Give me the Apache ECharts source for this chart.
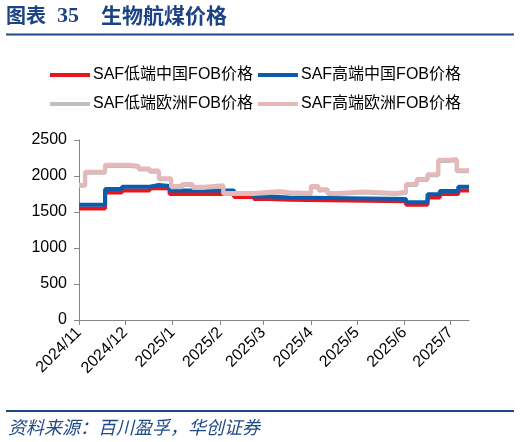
<!DOCTYPE html>
<html>
<head>
<meta charset="utf-8">
<script src="https://cdn.jsdelivr.net/npm/echarts@6/dist/echarts.min.js"></script>
<style>
  html, body { margin: 0; padding: 0; background: #fff; }
  #chart { width: 520px; height: 442px; }
</style>
</head>
<body>
<div id="chart"></div>
<script>
// 系列名称
var seriesNames = ["SAF低端中国FOB价格", "SAF高端中国FOB价格", "SAF低端欧洲FOB价格", "SAF高端欧洲FOB价格"];

// 价格变动点 [日期, 价格]，阶梯线保持到下一个点
var lowChina = [
  ["2024-11-01", 1550], ["2024-11-18", 1770], ["2024-11-29", 1800], ["2024-12-17", 1830],
  ["2024-12-30", 1750], ["2025-02-10", 1710], ["2025-02-23", 1680], ["2025-03-05", 1670],
  ["2025-03-18", 1650], ["2025-06-02", 1600], ["2025-06-16", 1700], ["2025-06-24", 1750],
  ["2025-07-06", 1800], ["2025-07-13", 1800]
];
var highChina = [
  ["2024-11-01", 1600], ["2024-11-18", 1820], ["2024-11-29", 1850], ["2024-12-17", 1875],
  ["2024-12-23", 1860], ["2024-12-30", 1800], ["2025-02-10", 1750], ["2025-02-23", 1715],
  ["2025-03-05", 1700], ["2025-03-18", 1680], ["2025-06-02", 1635], ["2025-06-16", 1745],
  ["2025-06-24", 1790], ["2025-07-06", 1850], ["2025-07-13", 1850]
];
var lowEurope = [
  ["2024-11-01", 1865], ["2024-11-05", 2045], ["2024-11-18", 2140], ["2024-12-04", 2125],
  ["2024-12-10", 2090], ["2024-12-17", 2060], ["2024-12-23", 1955], ["2024-12-31", 1845],
  ["2025-01-07", 1875], ["2025-01-14", 1835], ["2025-01-22", 1855], ["2025-02-03", 1750],
  ["2025-02-23", 1775], ["2025-03-12", 1760], ["2025-03-18", 1750], ["2025-04-01", 1845],
  ["2025-04-06", 1800], ["2025-04-12", 1750], ["2025-04-19", 1770], ["2025-05-05", 1750],
  ["2025-05-26", 1765], ["2025-06-02", 1875], ["2025-06-09", 1945], ["2025-06-16", 2010],
  ["2025-06-23", 2210], ["2025-07-01", 2220], ["2025-07-05", 2065], ["2025-07-13", 2065]
];
var highEurope = [
  ["2024-11-01", 1880], ["2024-11-05", 2060], ["2024-11-18", 2155], ["2024-12-04", 2140],
  ["2024-12-10", 2105], ["2024-12-17", 2075], ["2024-12-23", 1970], ["2024-12-31", 1860],
  ["2025-01-07", 1890], ["2025-01-14", 1850], ["2025-01-22", 1870], ["2025-02-03", 1765],
  ["2025-02-23", 1790], ["2025-03-12", 1775], ["2025-03-18", 1765], ["2025-04-01", 1860],
  ["2025-04-06", 1815], ["2025-04-12", 1765], ["2025-04-19", 1785], ["2025-05-05", 1765],
  ["2025-05-26", 1780], ["2025-06-02", 1890], ["2025-06-09", 1960], ["2025-06-16", 2025],
  ["2025-06-23", 2225], ["2025-07-01", 2235], ["2025-07-05", 2080], ["2025-07-13", 2080]
];

var seriesColors = ["#e8161c", "#0b5cad", "#bfbfbf", "#e6b8b7"];
var seriesData = [lowChina, highChina, lowEurope, highEurope];

var FONT = "'Liberation Sans', 'Noto Sans CJK SC', sans-serif";
var BLUE_DARK = "#1c4383";

var chart = echarts.init(document.getElementById("chart"), null, { renderer: "canvas" });

// 图例：每个单独定位，两行两列
var legendPos = [[50, 67], [258, 67], [50, 96], [258, 96]];
var legends = seriesNames.map(function (name, i) {
  return {
    data: [name],
    left: legendPos[i][0],
    top: legendPos[i][1],
    padding: 0,
    icon: "rect",
    itemWidth: 40,
    itemHeight: 4,
    itemGap: 0,
    selectedMode: false,
    textStyle: { fontSize: 16, color: "#000", fontFamily: FONT, padding: [0, 0, 0, -2] }
  };
});

var option = {
  animation: false,
  legend: legends,
  grid: { left: 79, right: 51, top: 140, bottom: 122, containLabel: false },
  xAxis: {
    type: "time",
    min: new Date(2024, 10, 1).getTime(),
    max: new Date(2025, 6, 13).getTime(),
    splitNumber: 8,
    axisLine: { lineStyle: { color: "#868686", width: 1 } },
    axisTick: { show: true, length: 5, lineStyle: { color: "#868686" } },
    minorTick: { show: false },
    splitLine: { show: false },
    axisLabel: {
      rotate: 45,
      margin: 10,
      fontSize: 16,
      color: "#000",
      fontFamily: FONT,
      showMaxLabel: false,
      formatter: function (val) {
        var d = new Date(val);
        return d.getFullYear() + "/" + (d.getMonth() + 1);
      }
    }
  },
  yAxis: {
    type: "value",
    min: 0,
    max: 2500,
    interval: 500,
    axisLine: { show: true, lineStyle: { color: "#868686", width: 1 } },
    axisTick: { show: true, length: 5, lineStyle: { color: "#868686" } },
    splitLine: { show: false },
    axisLabel: {
      fontSize: 16, color: "#000", fontFamily: FONT, margin: 12,
      formatter: function (v) { return String(v); }
    }
  },
  series: seriesNames.map(function (name, i) {
    return {
      name: name,
      type: "line",
      step: "end",
      showSymbol: false,
      symbol: "none",
      data: seriesData[i],
      lineStyle: { width: 4, color: seriesColors[i] },
      itemStyle: { color: seriesColors[i] }
    };
  }),
  graphic: [
    // 标题
    { type: "text", left: 6, top: 5, style: { text: "图表", fontSize: 20, fontWeight: "bold", fill: BLUE_DARK, fontFamily: "'Noto Sans CJK SC', sans-serif" } },
    { type: "text", left: 57, top: 5, style: { text: "35", fontSize: 22, fontWeight: "bold", fill: BLUE_DARK, fontFamily: "'Liberation Serif', serif" } },
    { type: "text", left: 101, top: 5, style: { text: "生物航煤价格", fontSize: 21, fontWeight: "bold", fill: BLUE_DARK, fontFamily: "'Noto Sans CJK SC', sans-serif" } },
    { type: "line", shape: { x1: 6, y1: 34.5, x2: 514, y2: 34.5 }, style: { stroke: "#1f4a89", lineWidth: 2 } },
    // 底部
    { type: "line", shape: { x1: 6, y1: 411, x2: 514, y2: 411 }, style: { stroke: "#1f4a89", lineWidth: 2 } },
    { type: "text", left: 8, top: 418, style: { text: "资料来源：百川盈孚，华创证券", fontSize: 18, fontStyle: "italic", fill: "#1f4a89", fontFamily: "'Noto Sans CJK SC', sans-serif" } }
  ]
};

chart.setOption(option);
</script>
</body>
</html>
